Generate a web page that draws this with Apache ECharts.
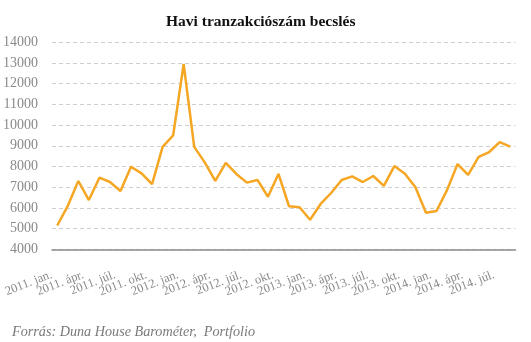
<!DOCTYPE html>
<html>
<head>
<meta charset="utf-8">
<script src="https://cdn.jsdelivr.net/npm/echarts@6/dist/echarts.min.js"></script>
<style>
  html, body { margin: 0; padding: 0; background: #fff; }
  #chart { width: 531px; height: 342px; }
</style>
</head>
<body>
<div id="chart"></div>
<script>
// Monthly categories, January 2011 – August 2014
const years = [2011, 2012, 2013, 2014];
const monthNames = ['jan.', 'febr.', 'márc.', 'ápr.', 'máj.', 'jún.', 'júl.', 'aug.', 'szept.', 'okt.', 'nov.', 'dec.'];
const months = [];
years.forEach(y => monthNames.forEach(m => months.push(y + '. ' + m)));
const categories = months.slice(0, 44);

// Estimated number of transactions per month
const transactions = [
  5150, 6100, 7300, 6380, 7460, 7250, 6820, 7990, 7670, 7150, 8950, 9500,
  12950, 8950, 8200, 7310, 8170, 7640, 7220, 7350, 6540, 7640, 6080, 6030,
  5430, 6190, 6720, 7350, 7520, 7250, 7540, 7060, 8020, 7650, 7000, 5770,
  5850, 6860, 8120, 7600, 8460, 8700, 9180, 8960
];

const yTicks = { min: 4000, max: 14000, step: 1000 };
const labelEvery = 3; // a month label every quarter

const serif = '"Liberation Serif", "DejaVu Serif", serif';

const chart = echarts.init(document.getElementById('chart'), null, { renderer: 'canvas' });
chart.setOption({
  animation: false,
  backgroundColor: '#ffffff',
  title: [{
    text: 'Havi tranzakciószám becslés',
    left: 161,
    top: 9,
    textStyle: { fontFamily: serif, fontWeight: 'bold', fontSize: 15.5, color: '#111' }
  }, {
    text: 'Forrás: Duna House Barométer,  Portfolio',
    left: 7,
    top: 320,
    textStyle: { fontFamily: serif, fontStyle: 'italic', fontWeight: 'normal', fontSize: 14.2, color: '#7a7a7a' }
  }],
  grid: { left: 52, right: 15.5, top: 42.3, bottom: 92.7 },
  xAxis: {
    type: 'category',
    data: categories,
    boundaryGap: true,
    axisLine: { lineStyle: { color: '#8a8a8a', width: 1.5 } },
    axisTick: { show: false },
    axisLabel: {
      interval: 0,
      formatter: (val, idx) => (idx % labelEvery === 0 ? val : ''),
      rotate: 21,
      margin: 23,
      padding: [0, 6, 0, 0],
      hideOverlap: false,
      fontFamily: serif,
      fontSize: 12.5,
      color: '#8a8a8a'
    },
    splitLine: { show: false }
  },
  yAxis: {
    type: 'value',
    min: yTicks.min,
    max: yTicks.max,
    interval: yTicks.step,
    axisLine: { show: false },
    axisTick: { show: false },
    axisLabel: {
      fontFamily: serif, fontSize: 14, color: '#8a8a8a', margin: 14,
      formatter: v => String(v)
    },
    splitLine: { lineStyle: { color: '#cfcfcf', type: [4, 3], width: 1 } }
  },
  series: [{
    type: 'line',
    data: transactions,
    symbol: 'none',
    smooth: false,
    lineStyle: { color: '#F5A623', width: 2.5 },
    z: 3
  }]
});
</script>
</body>
</html>
